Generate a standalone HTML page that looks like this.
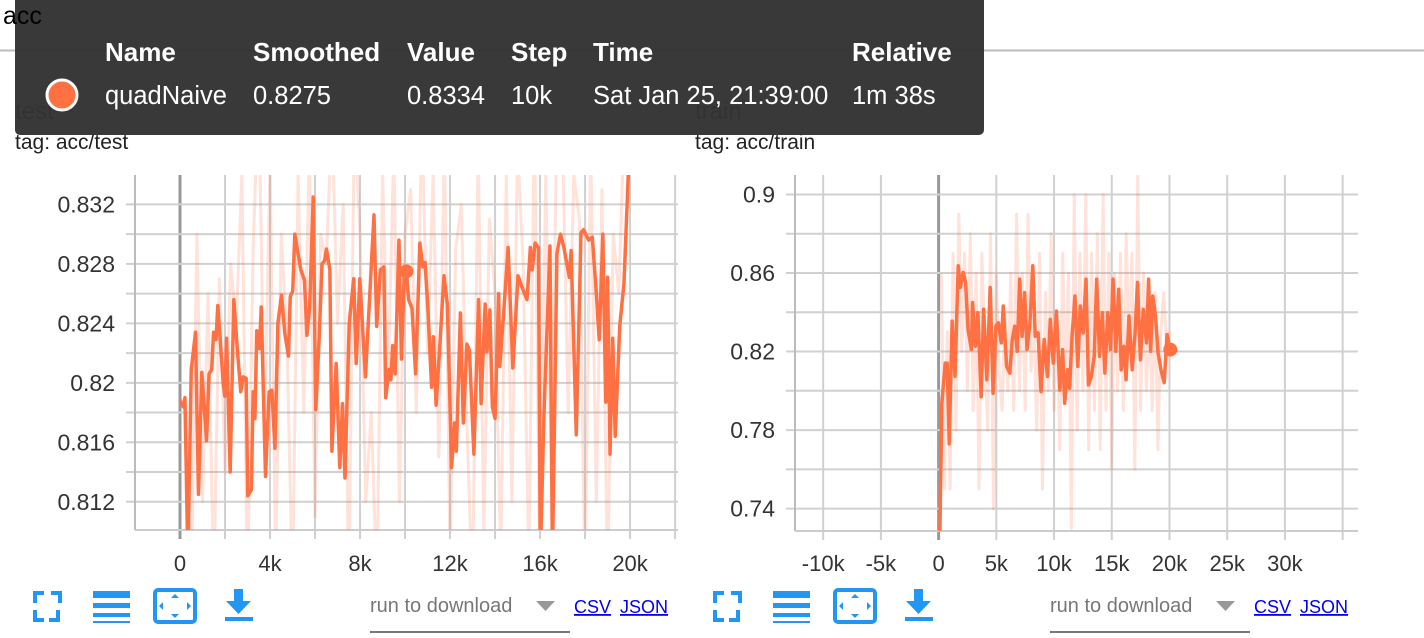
<!DOCTYPE html>
<html><head><meta charset="utf-8"><style>
html,body{margin:0;padding:0;background:#fff;width:1424px;height:638px;overflow:hidden;font-family:"Liberation Sans",sans-serif;}
svg text{font-family:"Liberation Sans",sans-serif;}
</style></head><body>
<svg id="root" width="1424" height="638" viewBox="0 0 1424 638">
  <line x1="0" y1="50.5" x2="1424" y2="50.5" stroke="#bbb" stroke-width="2"/>
  <text x="15" y="119" font-size="24" fill="#222">test</text>
  <text x="15" y="149" font-size="21" fill="#222">tag: acc/test</text>
  <text x="695" y="119" font-size="24" fill="#222">train</text>
  <text x="695" y="149" font-size="21" fill="#222">tag: acc/train</text>
  <g id="leftChart"></g>
  <g id="rightChart"></g>
  <g id="toolbars"></g>
  <g>
    <rect x="15" y="-8" width="969" height="143" rx="5" fill="#333" fill-opacity="0.97"/>
    <g font-size="26" font-weight="bold" fill="#fff">
      <text x="105" y="61">Name</text>
      <text x="253" y="61">Smoothed</text>
      <text x="407" y="61">Value</text>
      <text x="511" y="61">Step</text>
      <text x="593" y="61">Time</text>
      <text x="852" y="61">Relative</text>
    </g>
    <circle cx="62" cy="95" r="15" fill="#ff7043" stroke="#fff" stroke-width="3"/>
    <g font-size="25.5" fill="#fff">
      <text x="105" y="104">quadNaive</text>
      <text x="253" y="104">0.8275</text>
      <text x="407" y="104">0.8334</text>
      <text x="511" y="104">10k</text>
      <text x="593" y="104">Sat Jan 25, 21:39:00</text>
      <text x="852" y="104">1m 38s</text>
    </g>
  </g>
  <text x="3" y="24" font-size="25" fill="#000">acc</text>
</svg>
<script>
// ---- test chart data (steps in thousands) ----
const testSteps = [0.00,0.14,0.22,0.35,0.50,0.69,0.82,0.97,1.18,1.29,1.41,1.49,1.60,1.68,1.92,1.99,2.07,2.23,2.39,2.54,2.70,2.81,2.94,3.01,3.17,3.25,3.33,3.41,3.53,3.61,3.80,3.96,4.08,4.22,4.35,4.51,4.66,4.82,4.90,5.01,5.10,5.37,5.53,5.64,5.76,5.92,6.03,6.19,6.31,6.42,6.51,6.66,6.75,6.94,7.10,7.22,7.33,7.52,7.72,7.83,7.99,8.24,8.62,8.74,8.90,9.06,9.14,9.29,9.37,9.45,9.56,9.73,9.84,9.97,10.06,10.16,10.31,10.47,10.66,10.79,10.89,11.02,11.18,11.26,11.38,11.57,11.73,11.88,12.07,12.20,12.28,12.46,12.59,12.75,12.86,13.06,13.27,13.38,13.56,13.64,13.77,13.88,14.00,14.16,14.21,14.40,14.58,14.79,15.02,15.18,15.42,15.57,15.65,15.78,15.93,16.01,16.17,16.44,16.55,16.75,16.91,17.06,17.30,17.38,17.61,17.82,17.93,18.16,18.32,18.48,18.63,18.79,18.92,19.00,19.11,19.23,19.34,19.54,19.73,19.92];
const testSmoothed = [0.8188,0.8184,0.8190,0.8080,0.8209,0.8234,0.8125,0.8207,0.8161,0.8206,0.8209,0.8234,0.8229,0.8252,0.8200,0.8191,0.8230,0.8140,0.8256,0.8224,0.8194,0.8204,0.8203,0.8124,0.8128,0.8194,0.8176,0.8235,0.8223,0.8251,0.8137,0.8194,0.8195,0.8156,0.8240,0.8259,0.8233,0.8218,0.8258,0.8262,0.8300,0.8276,0.8269,0.8232,0.8251,0.8325,0.8182,0.8232,0.8280,0.8282,0.8290,0.8276,0.8154,0.8213,0.8143,0.8186,0.8136,0.8240,0.8270,0.8213,0.8270,0.8204,0.8313,0.8238,0.8276,0.8278,0.8190,0.8209,0.8202,0.8225,0.8206,0.8296,0.8216,0.8276,0.8275,0.8256,0.8250,0.8206,0.8294,0.8278,0.8281,0.8249,0.8197,0.8231,0.8185,0.8231,0.8272,0.8253,0.8143,0.8173,0.8154,0.8247,0.8173,0.8226,0.8222,0.8152,0.8256,0.8186,0.8253,0.8221,0.8249,0.8184,0.8176,0.8260,0.8211,0.8251,0.8291,0.8210,0.8272,0.8265,0.8256,0.8291,0.8276,0.8294,0.8291,0.8080,0.8177,0.8292,0.8080,0.8287,0.8300,0.8291,0.8271,0.8289,0.8165,0.8301,0.8303,0.8296,0.8298,0.8265,0.8229,0.8300,0.8187,0.8271,0.8152,0.8230,0.8164,0.8238,0.8267,0.8340];
const testRawSteps = [0,0.25,0.5,0.75,1,1.25,1.5,1.75,2,2.25,2.5,2.75,3,3.25,3.5,3.75,4,4.25,4.5,4.75,5,5.25,5.5,5.75,6,6.25,6.5,6.75,7,7.25,7.5,7.75,8,8.25,8.5,8.75,9,9.25,9.5,9.75,10,10.25,10.5,10.75,11,11.25,11.5,11.75,12,12.25,12.5,12.75,13,13.25,13.5,13.75,14,14.25,14.5,14.75,15,15.25,15.5,15.75,16,16.25,16.5,16.75,17,17.25,17.5,17.75,18,18.25,18.5,18.75,19,19.25,19.5,19.75,20];
const testRaw = [0.819,0.818,0.806,0.830,0.812,0.826,0.806,0.827,0.814,0.828,0.824,0.834,0.806,0.829,0.840,0.816,0.835,0.808,0.830,0.823,0.806,0.834,0.818,0.836,0.811,0.830,0.828,0.838,0.824,0.832,0.806,0.838,0.830,0.812,0.818,0.806,0.834,0.820,0.836,0.812,0.830,0.833,0.818,0.838,0.822,0.834,0.815,0.836,0.808,0.829,0.832,0.817,0.806,0.836,0.810,0.831,0.826,0.808,0.834,0.812,0.836,0.828,0.808,0.838,0.806,0.834,0.814,0.838,0.836,0.818,0.834,0.831,0.806,0.836,0.812,0.833,0.806,0.830,0.826,0.838,0.834];
const testYTicks = [0.812,0.816,0.82,0.824,0.828,0.832];
const testYTickLabels = ["0.812","0.816","0.82","0.824","0.828","0.832"];
const testXTicks = [0,4,8,12,16,20];
const testXTickLabels = ["0","4k","8k","12k","16k","20k"];
const testMarker = [10.06, 0.8275];

// ---- train chart data ----
const trainSteps = [0.11,0.28,0.57,0.74,0.92,1.17,1.42,1.70,1.88,2.13,2.34,2.55,2.84,2.94,3.19,3.40,3.69,3.90,4.18,4.47,4.72,4.96,5.18,5.43,5.60,5.89,6.17,6.38,6.60,6.81,7.02,7.23,7.45,7.66,7.91,8.16,8.37,8.62,8.87,9.15,9.43,9.68,9.93,10.21,10.50,10.74,10.92,11.17,11.35,11.56,11.81,12.06,12.27,12.52,12.77,12.98,13.23,13.48,13.69,13.94,14.18,14.40,14.65,14.89,15.11,15.35,15.60,15.82,16.06,16.24,16.49,16.77,17.02,17.23,17.48,17.73,18.01,18.19,18.37,18.55,18.79,19.01,19.26,19.54,19.79,20.07];
const trainSmoothed = [0.728,0.7936,0.8141,0.8141,0.7730,0.8355,0.8073,0.8637,0.8526,0.8603,0.8552,0.8312,0.8210,0.8449,0.8227,0.8398,0.7970,0.8415,0.8056,0.8526,0.7987,0.8329,0.8346,0.8244,0.8432,0.8124,0.8090,0.8261,0.8329,0.8201,0.8569,0.8278,0.8500,0.8210,0.8346,0.8637,0.8278,0.8295,0.7996,0.8261,0.8073,0.8364,0.8141,0.8406,0.8004,0.8210,0.7936,0.8107,0.8013,0.8278,0.8483,0.8124,0.8432,0.8295,0.8569,0.8030,0.8073,0.8175,0.8569,0.8175,0.8398,0.8090,0.8398,0.8210,0.8569,0.8201,0.8517,0.8107,0.8227,0.8056,0.8381,0.8107,0.8295,0.8552,0.8158,0.8415,0.8244,0.8569,0.8201,0.8483,0.8381,0.8193,0.8107,0.8041,0.8286,0.8210];
const trainRawSteps = [0.25,0.5,0.75,1,1.25,1.5,1.75,2,2.25,2.5,2.75,3,3.25,3.5,3.75,4,4.25,4.5,4.75,5,5.25,5.5,5.75,6,6.25,6.5,6.75,7,7.25,7.5,7.75,8,8.25,8.5,8.75,9,9.25,9.5,9.75,10,10.25,10.5,10.75,11,11.25,11.5,11.75,12,12.25,12.5,12.75,13,13.25,13.5,13.75,14,14.25,14.5,14.75,15,15.25,15.5,15.75,16,16.25,16.5,16.75,17,17.25,17.5,17.75,18,18.25,18.5,18.75,19,19.25,19.5,19.75,20];
const trainRaw = [0.86,0.75,0.83,0.75,0.87,0.78,0.89,0.82,0.87,0.80,0.88,0.79,0.86,0.75,0.87,0.82,0.78,0.88,0.74,0.86,0.81,0.79,0.84,0.80,0.86,0.79,0.89,0.80,0.86,0.79,0.89,0.81,0.84,0.78,0.87,0.75,0.85,0.80,0.88,0.79,0.84,0.77,0.87,0.80,0.86,0.73,0.90,0.78,0.87,0.80,0.90,0.77,0.87,0.79,0.88,0.77,0.90,0.79,0.87,0.76,0.86,0.80,0.87,0.79,0.88,0.82,0.87,0.76,0.91,0.79,0.86,0.80,0.84,0.79,0.85,0.77,0.83,0.85,0.82,0.83];
const trainYTicks = [0.74,0.78,0.82,0.86,0.9];
const trainYTickLabels = ["0.74","0.78","0.82","0.86","0.9"];
const trainXTicks = [-10,-5,0,5,10,15,20,25,30];
const trainXTickLabels = ["-10k","-5k","0","5k","10k","15k","20k","25k","30k"];
const trainMarker = [20.07, 0.8210];

const NS = "http://www.w3.org/2000/svg";
function mk(parent, tag, attrs){ const e=document.createElementNS(NS,tag); for(const k in attrs) e.setAttribute(k,attrs[k]); parent.appendChild(e); return e; }

function drawChart(g, cfg){
  const {x0,x1,y0,y1,xmin,xmax,ymin,ymax,xgrid,ygrid} = cfg;
  const sx = v => x0 + (v - xmin) / (xmax - xmin) * (x1 - x0);
  const sy = v => y1 - (v - ymin) / (ymax - ymin) * (y1 - y0);
  const id = cfg.id;
  const defs = mk(g,'defs',{});
  const cp = mk(defs,'clipPath',{id:id+'clip'});
  mk(cp,'rect',{x:x0,y:y0,width:x1-x0,height:y1-y0});
  xgrid.forEach(v=>{
    const l = mk(g,'line',{x1:sx(v),x2:sx(v),y1:y0,y2:y1+9,stroke: v===0?'#999':'#d0d0d0','stroke-width':v===0?3:2});
    
    
  });
  ygrid.forEach(v=>{
    const l = mk(g,'line',{x1:x0-9,x2:x1,y1:sy(v),y2:sy(v),stroke:'#d0d0d0','stroke-width':2});
    
    
  });
  const ax = mk(g,'line',{x1:x0,x2:x0,y1:y0,y2:y1,stroke:'#bbb','stroke-width':2});
  
  
  const bx = mk(g,'line',{x1:x0,x2:x1,y1:y1,y2:y1,stroke:'#ccc','stroke-width':2});
  
  
  cfg.yTicks.forEach((v,i)=>{
    const t = mk(g,'text',{x:x0-20,y:sy(v)+8,'text-anchor':'end','font-size':23,fill:'#333'});
    t.textContent = cfg.yLabels[i];
    
    
  });
  cfg.xTicks.forEach((v,i)=>{
    const t = mk(g,'text',{x:sx(v),y:571,'text-anchor':'middle','font-size':22,fill:'#333'});
    t.textContent = cfg.xLabels[i];
    
    
  });
  const series = mk(g,'g',{'clip-path':'url(#'+id+'clip)'});
  
  
  const raw = mk(series,'polyline',{points:cfg.rawS.map((s,i)=>sx(s)+','+sy(cfg.rawV[i])).join(' '),fill:'none',stroke:'#ff7043','stroke-opacity':0.2,'stroke-width':3,'stroke-linejoin':'round'});
  
  
  const sm = mk(series,'polyline',{points:cfg.smS.map((s,i)=>sx(s)+','+sy(cfg.smV[i])).join(' '),fill:'none',stroke:'#ff7043','stroke-width':3.5,'stroke-linejoin':'round'});
  
  
  const dot = mk(series,'circle',{cx:sx(cfg.marker[0]),cy:sy(cfg.marker[1]),r:7,fill:'#ff7043'});
  
  
}

const range=(a,b,s)=>{const r=[];for(let v=a;v<=b+1e-9;v+=s)r.push(+v.toFixed(4));return r;};
drawChart(document.getElementById('leftChart'),{id:'l',x0:135,x1:678,y0:175,y1:530,xmin:-2,xmax:22.13,ymin:0.8101,ymax:0.83398,
  xgrid:range(0,22,2),ygrid:range(0.812,0.832,0.002),yTicks:testYTicks,yLabels:testYTickLabels,xTicks:testXTicks,xLabels:testXTickLabels,
  rawS:testRawSteps,rawV:testRaw,smS:testSteps,smV:testSmoothed,marker:testMarker});
drawChart(document.getElementById('rightChart'),{id:'r',x0:795,x1:1358,y0:175,y1:531,xmin:-12.44,xmax:36.33,ymin:0.7286,ymax:0.9099,
  xgrid:range(-10,35,5),ygrid:range(0.74,0.9,0.02),yTicks:trainYTicks,yLabels:trainYTickLabels,xTicks:trainXTicks,xLabels:trainXTickLabels,
  rawS:trainRawSteps,rawV:trainRaw,smS:trainSteps,smV:trainSmoothed,marker:trainMarker});

function toolbar(off, side){
  const g = mk(document.getElementById('toolbars'),'g',{transform:'translate('+off+',0)'});
  
  
  const b='#2196f3';
  const fs = mk(g,'path',{d:'M35 603v-10h9 M51 593h9v10 M58 610v10h-9 M44 620h-9v-10',fill:'none',stroke:b,'stroke-width':4});
  
  
  const lg = mk(g,'g',{});
  
  
  mk(lg,'rect',{x:93,y:591,width:37,height:7,fill:b});
  mk(lg,'rect',{x:93,y:603,width:37,height:5,fill:b});
  mk(lg,'rect',{x:93,y:613,width:37,height:4,fill:b});
  mk(lg,'rect',{x:93,y:621,width:37,height:2,fill:b});
  const fit = mk(g,'g',{});
  
  
  mk(fit,'rect',{x:155,y:590,width:40,height:32,rx:3,fill:'none',stroke:b,'stroke-width':4});
  mk(fit,'path',{d:'M175 594l-4 4h8z M175 618l-4-4h8z M159 606l4-4v8z M191 606l-4-4v8z',fill:b});
  const dl = mk(g,'g',{});
  
  
  mk(dl,'path',{d:'M234 589h9v12h8l-12.5 13l-12.5-13h8z',fill:b});
  mk(dl,'rect',{x:225,y:617,width:28,height:4,fill:b});
  const sel = mk(g,'g',{});
  
  
  const st = mk(sel,'text',{x:370,y:612,'font-size':20,fill:'#777'}); st.textContent='run to download';
  mk(sel,'path',{d:'M536 601h19l-9.5 10z',fill:'#999'});
  mk(sel,'rect',{x:370,y:631,width:200,height:2,fill:'#777'});
  const c = mk(g,'text',{x:574,y:613,'font-size':18,fill:'#00e','text-decoration':'underline'}); c.textContent='CSV';
  
  
  const j = mk(g,'text',{x:620,y:613,'font-size':18,fill:'#00e','text-decoration':'underline'}); j.textContent='JSON';
  
  
}
toolbar(0,'test');
toolbar(680,'train');
</script>
</body></html>
